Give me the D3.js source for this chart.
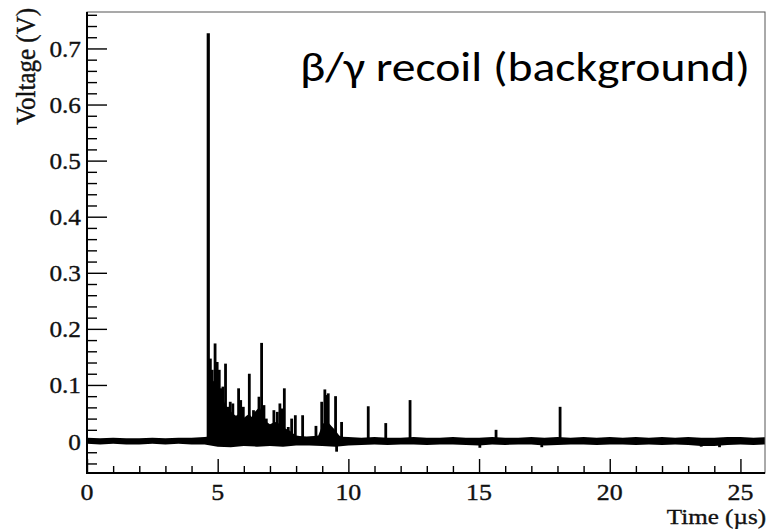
<!DOCTYPE html>
<html><head><meta charset="utf-8">
<script src="https://cdn.jsdelivr.net/npm/d3@7"></script>
<style>html,body{margin:0;padding:0;background:#fff;} svg{display:block}</style>
</head><body><svg id="c" width="767" height="529"></svg>
<script>
// ---- data ----
const xTickValues = [0, 5, 10, 15, 20, 25];
const xTickLabels = ["0", "5", "10", "15", "20", "25"];
const yTickValues = [0, 0.1, 0.2, 0.3, 0.4, 0.5, 0.6, 0.7];
const yTickLabels = ["0", "0.1", "0.2", "0.3", "0.4", "0.5", "0.6", "0.7"];
const xTitle = "Time (\u00b5s)";
const yTitle = "Voltage (V)";
const annotation = "\u03b2/\u03b3 recoil (background)";

// baseline noise band (upper / lower envelope), µs and V
const noiseTime = [0,0.5,1,1.5,2,2.5,3,3.5,4,4.5,5,5.5,6,6.5,7,7.5,8,8.5,9,9.5,10,10.5,11,11.5,12,12.5,13,13.5,14,14.5,15,15.5,16,16.5,17,17.5,18,18.5,19,19.5,20,20.5,21,21.5,22,22.5,23,23.5,24,24.5,25,25.5,26];
const noiseHigh = [0.006,0.005,0.006,0.005,0.005,0.006,0.005,0.006,0.006,0.007,0.010,0.010,0.010,0.010,0.009,0.009,0.008,0.008,0.009,0.008,0.007,0.006,0.007,0.006,0.006,0.007,0.006,0.006,0.007,0.006,0.006,0.007,0.006,0.006,0.007,0.006,0.007,0.006,0.007,0.006,0.007,0.006,0.007,0.006,0.007,0.006,0.007,0.006,0.006,0.007,0.007,0.006,0.007];
const noiseLow  = [-0.005,-0.006,-0.005,-0.006,-0.006,-0.005,-0.006,-0.005,-0.006,-0.006,-0.010,-0.011,-0.009,-0.010,-0.009,-0.010,-0.008,-0.008,-0.009,-0.010,-0.008,-0.007,-0.006,-0.007,-0.006,-0.006,-0.007,-0.006,-0.006,-0.007,-0.008,-0.006,-0.007,-0.006,-0.006,-0.008,-0.007,-0.006,-0.006,-0.007,-0.006,-0.006,-0.007,-0.006,-0.007,-0.006,-0.007,-0.009,-0.009,-0.007,-0.006,-0.007,-0.006];

// dense pile-up region (solid mass under the pulses)
const pileTime = [4.62,4.64,4.70,4.80,4.90,5.00,5.10,5.20,5.30,5.40,5.50,5.60,5.70,5.80,5.90,6.00,6.10,6.20,6.30,6.40,6.50,6.60,6.70,6.80,6.90,7.00,7.10,7.20,7.30,7.40,7.50,7.60,7.70,7.80,7.90,8.00,8.40,8.85,8.95,9.05,9.15,9.25,9.35,9.45,9.55,9.65,9.80];
const pileTop  = [0.006,0.100,0.110,0.105,0.110,0.100,0.086,0.076,0.064,0.058,0.053,0.048,0.045,0.048,0.043,0.041,0.045,0.048,0.043,0.051,0.056,0.061,0.050,0.038,0.033,0.030,0.032,0.034,0.032,0.030,0.027,0.022,0.020,0.017,0.013,0.010,0.007,0.010,0.022,0.032,0.030,0.032,0.027,0.022,0.016,0.010,0.006];

// individual pulses (µs, V)
const spikeTime = [4.64,4.72,4.79,4.90,4.98,5.06,5.14,5.20,5.30,5.40,5.48,5.58,5.68,5.80,5.88,5.98,6.06,6.21,6.29,6.37,6.46,6.58,6.68,6.77,6.86,6.96,7.15,7.28,7.38,7.46,7.55,7.70,7.83,7.97,8.25,8.76,8.98,9.10,9.16,9.23,9.51,9.55,9.74,10.76,11.43,12.36,15.03,15.65,17.40,18.10,23.50,24.20];
const spikeVolt = [0.727,0.147,0.127,0.174,0.141,0.127,0.094,0.097,0.138,0.061,0.070,0.067,0.043,0.094,0.073,0.061,0.037,0.120,0.037,0.055,0.049,0.079,0.175,0.064,0.040,0.025,0.055,0.052,0.067,0.058,0.094,0.025,0.040,0.046,0.046,0.027,0.070,0.092,0.082,0.085,0.080,-0.019,0.034,0.062,0.032,0.073,-0.012,0.020,-0.011,0.061,-0.010,-0.011];

// ---- drawing ----
const M = {left: 87, right: 765, top: 12, bottom: 473};
const svg = d3.select("#c");
const x = d3.scaleLinear().domain([0, 25.94]).range([M.left, M.right]);
const y = d3.scaleLinear().domain([-0.057, 0.765]).range([M.bottom, M.top]);

svg.append("defs").append("clipPath").attr("id", "clip")
  .append("rect").attr("x", M.left).attr("y", M.top)
  .attr("width", M.right - M.left).attr("height", M.bottom - M.top);

const plot = svg.append("g").attr("clip-path", "url(#clip)");

// noise band
const noise = noiseTime.map((t, i) => ({t, hi: noiseHigh[i], lo: noiseLow[i]}));
plot.append("path").datum(noise)
  .attr("fill", "#000")
  .attr("d", d3.area().x(d => x(d.t)).y0(d => y(d.lo)).y1(d => y(d.hi)));

// pile-up mass
const pile = pileTime.map((t, i) => ({t, v: pileTop[i]}));
plot.append("path").datum(pile)
  .attr("fill", "#000")
  .attr("d", d3.area().x(d => x(d.t)).y0(y(-0.006)).y1(d => y(d.v)));

// pulses
const spikes = spikeTime.map((t, i) => ({t, v: spikeVolt[i]}));
plot.selectAll("line.spike").data(spikes).enter().append("line")
  .attr("class", "spike")
  .attr("x1", d => x(d.t)).attr("x2", d => x(d.t))
  .attr("y1", y(0)).attr("y2", d => y(d.v))
  .attr("stroke", "#000")
  .attr("stroke-width", d => d.v > 0.5 ? 3.2 : 2.8);

// axes ticks (ROOT style, inward)
const axG = svg.append("g");
const yMajor = d3.axisLeft(y).tickValues(yTickValues).tickSize(-20).tickFormat("");
const yMinor = d3.axisLeft(y).tickValues(d3.range(-0.04, 0.765, 0.02).filter(v => Math.abs(Math.round(v * 50) % 5) !== 0)).tickSize(-10).tickFormat("");
const xMajor = d3.axisBottom(x).tickValues(xTickValues).tickSize(-14).tickFormat("");
const xMinor = d3.axisBottom(x).tickValues(d3.range(1, 26, 1).filter(v => v % 5 !== 0)).tickSize(-7).tickFormat("");

[[yMajor, `translate(${M.left},0)`], [yMinor, `translate(${M.left},0)`],
 [xMajor, `translate(0,${M.bottom})`], [xMinor, `translate(0,${M.bottom})`]].forEach(([ax, tr]) => {
  const g = axG.append("g").attr("transform", tr).call(ax);
  g.select(".domain").remove();
  g.selectAll(".tick line").attr("stroke", "#000").attr("stroke-width", 1.4);
});

// frame
svg.append("rect").attr("x", M.left).attr("y", M.top)
  .attr("width", M.right - M.left).attr("height", M.bottom - M.top)
  .attr("fill", "none").attr("stroke", "#555").attr("stroke-width", 1);
svg.append("line").attr("x1", M.left).attr("x2", M.left).attr("y1", M.top).attr("y2", M.bottom + 1)
  .attr("stroke", "#000").attr("stroke-width", 2);
svg.append("line").attr("x1", M.left - 1).attr("x2", M.right).attr("y1", M.bottom).attr("y2", M.bottom)
  .attr("stroke", "#000").attr("stroke-width", 2);

// labels
const serif = "'Liberation Serif', 'Times New Roman', serif";
function label(px, py, str, anchor, size, sx, rot) {
  svg.append("text")
    .attr("transform", `translate(${px},${py}) scale(${sx},1)` + (rot ? ` rotate(${rot})` : ""))
    .attr("text-anchor", anchor)
    .attr("font-family", serif)
    .attr("font-size", size)
    .attr("fill", "#111")
    .attr("stroke", "#111")
    .attr("stroke-width", 0.35)
    .text(str);
}
yTickValues.forEach((v, i) => label(M.left - 6, y(v) + 8.5, yTickLabels[i], "end", 23, 1.1));
xTickValues.forEach((v, i) => label(x(v), 500, xTickLabels[i], "middle", 24, 1.08));
label(766, 524, xTitle, "end", 22, 1.14);
label(35, 8, yTitle, "end", 25, 1.12, -90);

// annotation
svg.append("text")
  .attr("x", 300).attr("y", 81)
  .attr("font-family", "Carlito, Lato, 'Open Sans', sans-serif")
  .attr("font-size", 40)
  .attr("fill", "#000")
  .attr("textLength", 450)
  .attr("lengthAdjust", "spacingAndGlyphs")
  .text(annotation);
</script>
</body></html>
